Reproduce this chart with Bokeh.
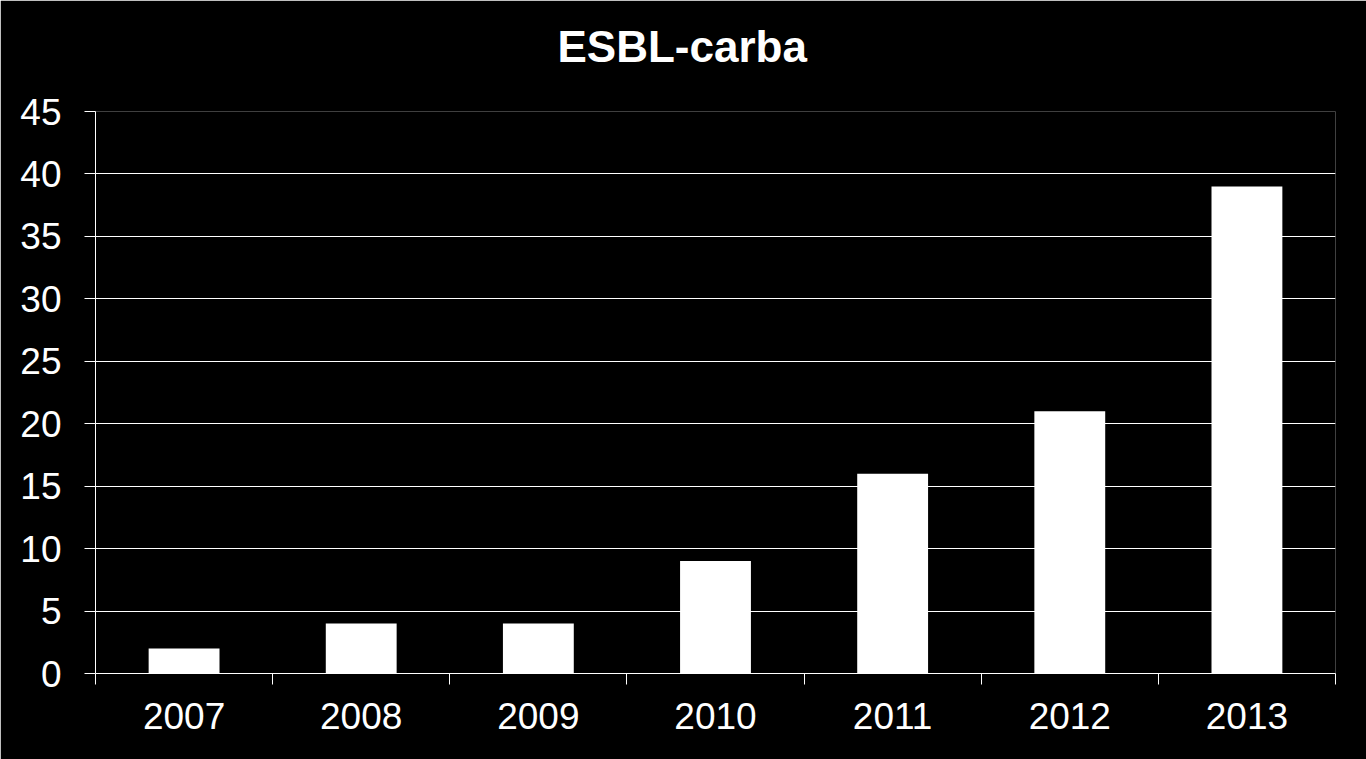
from bokeh.plotting import figure
from bokeh.models import Range1d, FixedTicker, ColumnDataSource, Title
from bokeh.embed import file_html
from bokeh.resources import INLINE

title_text = "ESBL-carba"
years = ["2007", "2008", "2009", "2010", "2011", "2012", "2013"]
counts = [2, 4, 4, 9, 16, 21, 39]
y_ticks = [0, 5, 10, 15, 20, 25, 30, 35, 40, 45]

xs = list(range(1, len(years) + 1))
src = ColumnDataSource(dict(x=xs, top=counts, year=years))

FONT = "Liberation Sans"

p = figure(width=1366, height=759, output_backend="svg", toolbar_location=None,
           x_range=Range1d(0.5, len(years) + 0.5), y_range=Range1d(0, 45),
           background_fill_color="black", border_fill_color="black",
           outline_line_color=None,
           min_border_left=95, min_border_right=31, min_border_top=111, min_border_bottom=86,
           title=title_text)

p.title.text_color = "white"
p.title.text_font = FONT
p.title.text_font_size = "44px"
p.title.text_font_style = "bold"
p.title.align = "left"
p.title.offset = 462
p.title.standoff = 0

# empty spacer panel between the title and the plot area
p.add_layout(Title(text=" ", text_font_size="2px", standoff=37,
                   text_color="black"), "above")

p.vbar(x="x", top="top", width=0.4, source=src, fill_color="white", line_color=None)

# x axis
xa = p.xaxis[0]
xa.ticker = FixedTicker(ticks=xs, minor_ticks=[i + 0.5 for i in range(0, len(years) + 1)])
xa.major_label_overrides = {i: y for i, y in zip(xs, years)}
xa.major_tick_out = 0
xa.major_tick_in = 0
xa.minor_tick_out = 11
xa.minor_tick_in = 0
xa.minor_tick_line_color = "white"
xa.axis_line_color = "white"
xa.major_label_text_color = "white"
xa.major_label_text_font = FONT
xa.major_label_text_font_size = "37px"
xa.major_label_standoff = 18

# y axis
ya = p.yaxis[0]
ya.ticker = FixedTicker(ticks=y_ticks)
ya.major_tick_out = 11
ya.major_tick_in = 0
ya.minor_tick_line_color = None
ya.major_tick_line_color = "white"
ya.axis_line_color = "white"
ya.major_label_text_color = "white"
ya.major_label_text_font = FONT
ya.major_label_text_font_size = "37px"
ya.major_label_standoff = 23

p.xgrid.grid_line_color = None
p.ygrid.grid_line_color = "white"
p.ygrid.grid_line_width = 1
p.ygrid.ticker = FixedTicker(ticks=y_ticks)

open("out.html", "w").write(file_html(p, INLINE))
